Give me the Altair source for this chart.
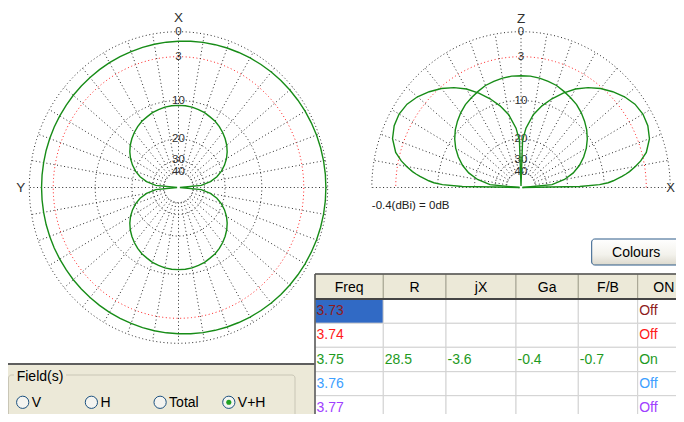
import altair as alt
import pandas as pd

# ------------------------------------------------------------------ data
AZ_ANGLES = list(range(0, 365, 5))
AZ_OUTER_DB = [-1.08, -1.02, -0.96, -0.90, -0.83, -0.77, -0.70, -0.63, -0.57, -0.51,
               -0.45, -0.40, -0.35, -0.31, -0.27, -0.24, -0.22, -0.21, -0.21,
               -0.21, -0.22, -0.24, -0.27, -0.31, -0.35, -0.40, -0.45,
               -0.51, -0.57, -0.63, -0.70, -0.77, -0.83, -0.90, -0.96, -1.02, -1.08,
               -1.13, -1.18, -1.23, -1.27, -1.31, -1.34, -1.37, -1.39, -1.41,
               -1.42, -1.44, -1.45, -1.45, -1.46, -1.46, -1.47, -1.47, -1.47,
               -1.47, -1.47, -1.46, -1.46, -1.45, -1.45, -1.44, -1.42, -1.41,
               -1.39, -1.37, -1.34, -1.31, -1.27, -1.23, -1.18, -1.13, -1.08]
AZ_INNER_DB = [-11.0, -11.0, -11.1, -11.3, -11.5, -11.9, -12.2, -12.7, -13.3, -14.0,
               -14.8, -15.8, -17.0, -18.5, -20.3, -22.7, -26.2, -32.2,
               -80.0,
               -32.2, -26.2, -22.7, -20.3, -18.5, -17.0, -15.8, -14.8, -14.0, -13.3,
               -12.7, -12.2, -11.9, -11.5, -11.3, -11.1, -11.0, -11.0,
               -11.0, -11.1, -11.3, -11.5, -11.9, -12.2, -12.7, -13.3, -14.0,
               -14.8, -15.8, -17.0, -18.5, -20.3, -22.7, -26.2, -32.2,
               -80.0,
               -32.2, -26.2, -22.7, -20.3, -18.5, -17.0, -15.8, -14.8, -14.0, -13.3,
               -12.7, -12.2, -11.9, -11.5, -11.3, -11.1, -11.0, -11.0]

EL_A_ANGLES = list(range(0, 185, 5))
EL_A_DB = [-80.0, -26.9, -20.9, -17.4, -15.0, -13.2, -11.7, -10.5, -9.5, -8.7,
           -8.0, -7.4, -7.0, -6.6, -6.2, -6.0, -5.8, -5.7, -5.7,
           -5.7, -5.8, -6.0, -6.2, -6.6, -7.0, -7.4, -8.0, -8.7, -9.5,
           -10.5, -11.7, -13.2, -15.0, -17.4, -20.9, -26.9, -80.0]

EL_B_ANGLES = sorted([0, 1, 2, 3, 4, 5, 6, 7, 8, 10, 12]
                     + list(range(15, 90, 5)) + [88, 90, 92]
                     + list(range(95, 170, 5))
                     + [168, 170, 172, 173, 174, 175, 176, 177, 178, 179, 180])
EL_B_DB = [-80.0, -16.0, -11.0, -9.2, -8.2, -7.4, -6.6, -5.9, -5.3, -4.3, -3.4,
           -2.4, -1.5, -1.1, -1.0, -1.2, -1.7, -2.4, -3.2, -4.2, -5.4, -6.9, -8.6,
           -10.5, -12.8, -16.5,
           -20.5, -80.0, -20.5,
           -16.5, -12.8, -10.5, -8.6, -6.9, -5.4, -4.2, -3.2, -2.4, -1.7, -1.2, -1.0,
           -1.1, -1.5, -2.4,
           -3.4, -4.3, -5.3, -5.9, -6.6, -7.4, -8.2, -9.2, -11.0, -16.0, -80.0]

RING_DB = [0, -3, -10, -20, -30, -40]
RING_TEXT = ["0", "3", "10", "20", "30", "40"]
ZERO_REF = "-0.4(dBi) = 0dB"

COLUMNS = ["Freq", "R", "jX", "Ga", "F/B", "ON"]
FREQ = ["3.73", "3.74", "3.75", "3.76", "3.77"]
R_VAL = ["", "", "28.5", "", ""]
JX_VAL = ["", "", "-3.6", "", ""]
GA_VAL = ["", "", "-0.4", "", ""]
FB_VAL = ["", "", "-0.7", "", ""]
ON_VAL = ["Off", "Off", "On", "Off", "Off"]

FIELD_OPTIONS = ["V", "H", "Total", "V+H"]
FIELD_SELECTED = "V+H"
GROUP_TITLE = "Field(s)"
BUTTON_TEXT = "Colours"

# ------------------------------------------------------------------ styles / layout
FONT = "Liberation Sans"
GREEN = "#178C17"
GRID = "#2A2A2A"
BEIGE = "#ECE9D8"
ROW_COLORS = ["#8E1B1B", "#FF1A1A", "#1E9A1E", "#3DA0FF", "#A040FF"]
W, H = 668, 406

LEFT_X = alt.Scale(domain=[-1, 1], range=[21.3, 319.7], nice=False, zero=False)
LEFT_Y = alt.Scale(domain=[-1, 1], range=[335.3, 23.7], nice=False, zero=False)
RIGHT_X = alt.Scale(domain=[-1, 1], range=[363.8, 662.2], nice=False, zero=False)
RIGHT_Y = alt.Scale(domain=[-1, 1], range=[335.3, 23.7], nice=False, zero=False)
TAB_X = alt.Scale(domain=[0, 1, 2, 3, 4, 5, 6],
                  range=[307, 375.3, 438, 508, 570.3, 629.7, 682], nice=False, zero=False)
TAB_Y = alt.Scale(domain=[0, 1, 2, 3, 4, 5, 6],
                  range=[266, 291, 315.3, 339.3, 363.7, 387.7, 412], nice=False, zero=False)
RADIO_X = alt.Scale(domain=[0, 3], range=[14.7, 220.8], nice=False, zero=False)

ARRL = "pow(0.89, -datum.db / 2)"
ONE = pd.DataFrame({"k": [0]})


def polar_xy(chart, mode):
    c = chart.transform_calculate(rr=ARRL)
    if mode == "az":
        return c.transform_calculate(px="datum.rr * sin(datum.ang * PI / 180)",
                                     py="datum.rr * cos(datum.ang * PI / 180)")
    return c.transform_calculate(px="datum.rr * cos(datum.ang * PI / 180)",
                                 py="datum.rr * sin(datum.ang * PI / 180)")


def ring_df(max_ang):
    rows = []
    for lv in RING_DB:
        for k, a in enumerate(range(0, max_ang + 1, 2)):
            rows.append({"key": "r%d" % lv, "lv": lv, "ang": a, "db": lv, "seq": k})
    return pd.DataFrame(rows)


def radial_df(max_ang):
    rows = []
    for a in range(0, max_ang + 1, 10):
        if max_ang == 360 and a == 360:
            continue
        for k, lv in enumerate([RING_DB[-1], RING_DB[0]]):
            rows.append({"key": "a%d" % a, "ang": a, "db": lv, "seq": k})
    return pd.DataFrame(rows)


def curve_df(series):
    rows = []
    for name, angs, dbs in series:
        for k, (a, d) in enumerate(zip(angs, dbs)):
            rows.append({"key": name, "ang": a, "db": d, "seq": k})
    return pd.DataFrame(rows)


def tmark(txt, x, y, sx, sy, **kw):
    return alt.Chart(pd.DataFrame({"t": [txt]})).mark_text(font=FONT, **kw).encode(
        x=alt.XDatum(x, scale=sx, axis=None), y=alt.YDatum(y, scale=sy, axis=None),
        text="t:N")


def polar(mode, curves, sx, sy):
    max_ang = 360 if mode == "az" else 180
    enc = dict(x=alt.X("px:Q", scale=sx, axis=None), y=alt.Y("py:Q", scale=sy, axis=None),
               detail="key:N", order="seq:Q")
    rings = polar_xy(alt.Chart(ring_df(max_ang)), mode)
    gray = rings.transform_filter(alt.datum.lv != -3).mark_line(
        color=GRID, strokeWidth=1, strokeDash=[1, 2.6]).encode(**enc)
    red = rings.transform_filter(alt.datum.lv == -3).mark_line(
        color="#FF2020", strokeWidth=1, strokeDash=[1, 2.6]).encode(**enc)
    rad = polar_xy(alt.Chart(radial_df(max_ang)), mode).mark_line(
        color=GRID, strokeWidth=1, strokeDash=[1, 2.6]).encode(**enc)
    labels = alt.Chart(pd.DataFrame({"db": RING_DB, "txt": RING_TEXT})).transform_calculate(
        px="0", py=ARRL).mark_text(font=FONT, fontSize=11.5, color="#303030").encode(
        x=alt.X("px:Q", scale=sx, axis=None), y=alt.Y("py:Q", scale=sy, axis=None),
        text="txt:N")
    crv = polar_xy(alt.Chart(curves), mode).mark_line(
        color=GREEN, strokeWidth=1.4).encode(**enc)
    return [gray, red, rad, labels, crv]


# ------------------------------------------------------------------ background
bg_beige = alt.Chart(ONE).mark_rect(color=BEIGE).encode(
    x=alt.value(0), x2=alt.value(307), y=alt.value(357), y2=alt.value(H))
bg_line = alt.Chart(ONE).mark_rect(color="#5E5E5E").encode(
    x=alt.value(0), x2=alt.value(307), y=alt.value(355), y2=alt.value(357))
decor = alt.layer(bg_beige, bg_line)

# ------------------------------------------------------------------ polar plots
az_curves = curve_df([("outer", AZ_ANGLES, AZ_OUTER_DB), ("inner", AZ_ANGLES, AZ_INNER_DB)])
el_curves = curve_df([("A", EL_A_ANGLES, EL_A_DB), ("B", EL_B_ANGLES, EL_B_DB)])

left = alt.layer(
    *polar("az", az_curves, LEFT_X, LEFT_Y),
    tmark("X", 0, 1, LEFT_X, LEFT_Y, fontSize=13.5, dy=-14, color="#303030"),
    tmark("Y", -1, 0, LEFT_X, LEFT_Y, fontSize=13.5, dx=-8.6, color="#303030"),
)
right = alt.layer(
    *polar("el", el_curves, RIGHT_X, RIGHT_Y),
    tmark("Z", 0, 1, RIGHT_X, RIGHT_Y, fontSize=13.5, dy=-13, color="#303030"),
    tmark("X", 1, 0, RIGHT_X, RIGHT_Y, fontSize=13, dx=0.5, color="#303030"),
    tmark(ZERO_REF, -1, 0, RIGHT_X, RIGHT_Y, fontSize=11.5, dy=18.5, align="left",
          color="#202020"),
)

# ------------------------------------------------------------------ button
btn_fill = alt.LinearGradient(gradient="linear", x1=0, x2=0, y1=0, y2=1,
                              stops=[alt.GradientStop(color="#FFFFFF", offset=0),
                                     alt.GradientStop(color="#F3F2EC", offset=0.6),
                                     alt.GradientStop(color="#DCD9CD", offset=1)])
btn = alt.Chart(ONE).mark_rect(cornerRadius=3, stroke="#2D5A88", strokeWidth=1,
                               fill=btn_fill).encode(
    x=alt.value(583.7), x2=alt.value(672.7), y=alt.value(231), y2=alt.value(257))
btn_txt = alt.Chart(pd.DataFrame({"t": [BUTTON_TEXT]})).mark_text(
    font=FONT, fontSize=14, color="black").encode(
    x=alt.value(628.2), y=alt.value(244.5), text="t:N")
button = alt.layer(btn, btn_txt)

# ------------------------------------------------------------------ table
cells = []
for j, name in enumerate(COLUMNS):
    cells.append(dict(c=j, c2=j + 1, r=0, r2=1, text=name, kind="head", color="#000000"))
body_cols = [FREQ, R_VAL, JX_VAL, GA_VAL, FB_VAL, ON_VAL]
for i in range(len(FREQ)):
    for j, col in enumerate(body_cols):
        kind = "sel" if (i == 0 and j == 0) else "body"
        cells.append(dict(c=j, c2=j + 1, r=i + 1, r2=i + 2, text=col[i], kind=kind,
                          color=ROW_COLORS[i]))
cells_df = pd.DataFrame(cells)

tx = alt.X("c:Q", scale=TAB_X, axis=None)
ty = alt.Y("r:Q", scale=TAB_Y, axis=None)
head = alt.Chart(cells_df).transform_filter(alt.datum.kind == "head")
body = alt.Chart(cells_df).transform_filter(alt.datum.kind != "head")
head_rect = head.mark_rect(fill=BEIGE, stroke="#A5A392", strokeWidth=1).encode(
    x=tx, x2="c2:Q", y=ty, y2="r2:Q")
body_rect = body.mark_rect(stroke="#D2D2D2", strokeWidth=1).encode(
    x=tx, x2="c2:Q", y=ty, y2="r2:Q",
    fill=alt.condition(alt.datum.kind == "sel", alt.value("#316AC5"), alt.value("white")))
head_txt = head.transform_calculate(cx="datum.c + 0.5", cy="datum.r + 0.5").mark_text(
    font=FONT, fontSize=14, color="black", dy=1.5).encode(
    x=alt.X("cx:Q", scale=TAB_X, axis=None), y=alt.Y("cy:Q", scale=TAB_Y, axis=None),
    text="text:N")
body_txt = body.transform_calculate(cy="datum.r + 0.5").mark_text(
    font=FONT, fontSize=14, align="left", dx=1.5).encode(
    x=tx, y=alt.Y("cy:Q", scale=TAB_Y, axis=None), text="text:N",
    color=alt.Color("color:N", scale=None))
top_line = alt.Chart(ONE).mark_rule(color="#555555", strokeWidth=1.5).encode(
    x=alt.XDatum(0, scale=TAB_X, axis=None), x2=alt.X2Datum(6),
    y=alt.YDatum(0, scale=TAB_Y, axis=None))
head_line = alt.Chart(ONE).mark_rule(color="#454545", strokeWidth=2).encode(
    x=alt.XDatum(0, scale=TAB_X, axis=None), x2=alt.X2Datum(6),
    y=alt.YDatum(1, scale=TAB_Y, axis=None))
left_line = alt.Chart(ONE).mark_rule(color="#555555", strokeWidth=1.5).encode(
    x=alt.XDatum(0, scale=TAB_X, axis=None),
    y=alt.YDatum(0, scale=TAB_Y, axis=None), y2=alt.Y2Datum(6))
table = alt.layer(head_rect, body_rect, head_txt, body_txt, top_line, head_line, left_line)

# ------------------------------------------------------------------ group box
frame = alt.Chart(ONE).mark_rect(fillOpacity=0, stroke="#C9C6B6", strokeWidth=1,
                                 cornerRadius=3).encode(
    x=alt.value(0.5), x2=alt.value(287), y=alt.value(367), y2=alt.value(420))
title_bg = alt.Chart(ONE).mark_rect(color=BEIGE).encode(
    x=alt.value(6), x2=alt.value(58), y=alt.value(361), y2=alt.value(376))
title = alt.Chart(pd.DataFrame({"t": [GROUP_TITLE]})).mark_text(
    font=FONT, fontSize=14, align="left", color="black").encode(
    x=alt.value(8.7), y=alt.value(369), text="t:N")
radio_df = pd.DataFrame({"opt": FIELD_OPTIONS, "i": list(range(len(FIELD_OPTIONS))),
                         "sel": [o == FIELD_SELECTED for o in FIELD_OPTIONS]})
rx = alt.X("i:Q", scale=RADIO_X, axis=None)
circles = alt.Chart(radio_df).mark_point(shape="circle", filled=True, size=150,
                                         fill="#F4F4F0", stroke="#1C5180",
                                         strokeWidth=1, opacity=1).encode(
    x=rx, y=alt.value(394.3))
dots = alt.Chart(radio_df).transform_filter(alt.datum.sel == True).mark_point(
    shape="circle", filled=True, size=26, color="#21A121", opacity=1).encode(
    x=rx, y=alt.value(394.3))
radio_txt = alt.Chart(radio_df).mark_text(font=FONT, fontSize=14, align="left", dx=9,
                                          color="black").encode(
    x=rx, y=alt.value(394.8), text="opt:N")
group = alt.layer(frame, title_bg, title, circles, dots, radio_txt)

# ------------------------------------------------------------------ compose
chart = alt.layer(decor, left, right, button, table, group).resolve_scale(
    x="independent", y="independent"
).properties(
    width=W, height=H, padding=0,
    autosize=alt.AutoSizeParams(type="none"), background="white"
).configure_view(strokeWidth=0)

chart.save("out.html", embed_options={"renderer": "svg", "actions": False})
